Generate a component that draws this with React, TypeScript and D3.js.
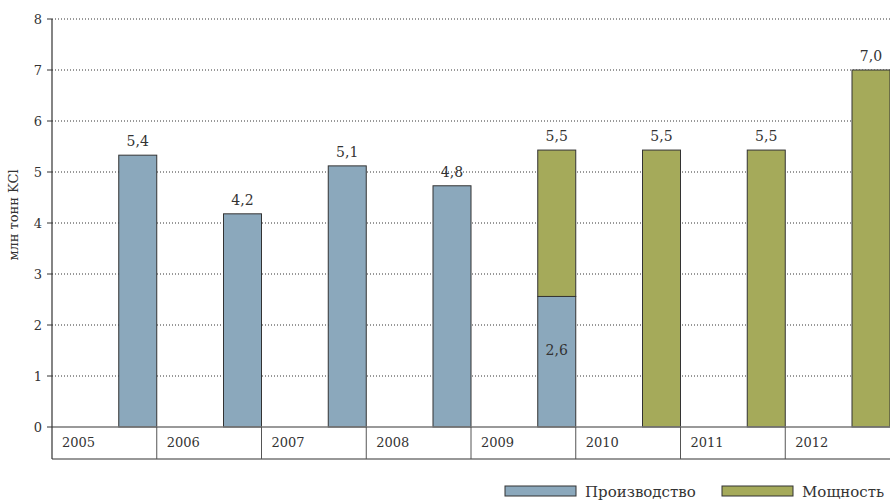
import React from "react";
import * as d3 from "d3";

const years = ["2005", "2006", "2007", "2008", "2009", "2010", "2011", "2012"];
const production = [5.33, 4.18, 5.12, 4.73, 2.56, 0, 0, 0];
const capacity = [0, 0, 0, 0, 2.87, 5.43, 5.43, 7.0];
const topLabels = ["5,4", "4,2", "5,1", "4,8", "5,5", "5,5", "5,5", "7,0"];
const innerLabel = { year: "2009", text: "2,6", at: 1.5 };
const yTicks = [0, 1, 2, 3, 4, 5, 6, 7, 8];
const seriesNames = ["Производство", "Мощность"];
const colors = ["#8BA8BC", "#A5AA5A"];

const W = 890, H = 501;
const left = 52, right = 890, top = 19, bottom = 427, rowBottom = 459;
const font = "DejaVu Serif, Liberation Serif, serif";

export default function App() {
  const x = d3.scaleBand().domain(years).range([left, right]).padding(0);
  const y = d3.scaleLinear().domain([0, 8]).range([bottom, top]);
  const barW = 38;
  const stack = d3.stack<any>().keys(["p", "c"])(
    years.map((yr, i) => ({ yr, p: production[i], c: capacity[i] }))
  );
  return (
    <svg width={W} height={H} style={{ position: "absolute", left: 0, top: 0, background: "#fff", fontFamily: font }}>
      {yTicks.filter(t => t > 0).map(t => (
        <line key={t} x1={left} x2={right} y1={y(t)} y2={y(t)} stroke="#333" strokeWidth={1} strokeDasharray="1,2" />
      ))}
      {yTicks.map(t => (
        <g key={t}>
          <line x1={left - 5} x2={left} y1={y(t)} y2={y(t)} stroke="#333" />
          <text x={left - 10} y={y(t)} dy="0.35em" textAnchor="end" fontSize={13} fill="#333">{t}</text>
        </g>
      ))}
      {stack.map((s, si) => (
        <g key={si}>
          {s.map((d, i) => d[1] - d[0] > 0 ? (
            <rect key={i} x={(x(years[i]) as number) + x.bandwidth() - barW} y={y(d[1])}
              width={barW} height={y(d[0]) - y(d[1])} fill={colors[si]} stroke="#333" strokeWidth={1} />
          ) : null)}
        </g>
      ))}
      {years.map((yr, i) => (
        <text key={yr} x={(x(yr) as number) + x.bandwidth() - barW / 2} y={y(production[i] + capacity[i]) - 9}
          textAnchor="middle" fontSize={14} fill="#333">{topLabels[i]}</text>
      ))}
      <text x={(x(innerLabel.year) as number) + x.bandwidth() - barW / 2} y={y(innerLabel.at)} dy="0.35em"
        textAnchor="middle" fontSize={14} fill="#333">{innerLabel.text}</text>
      <line x1={left} x2={right} y1={bottom} y2={bottom} stroke="#777" strokeWidth={1.5} />
      <line x1={left} x2={left} y1={top} y2={rowBottom} stroke="#333" strokeWidth={1.2} />
      <line x1={left} x2={right} y1={rowBottom} y2={rowBottom} stroke="#333" strokeWidth={1.2} />
      {years.slice(1).map(yr => (
        <line key={yr} x1={x(yr) as number} x2={x(yr) as number} y1={bottom} y2={rowBottom} stroke="#555" strokeWidth={1} />
      ))}
      {years.map(yr => (
        <text key={yr} x={(x(yr) as number) + 10} y={447} fontSize={13} fill="#333">{yr}</text>
      ))}
      <text transform={`translate(18,215) rotate(-90)`} textAnchor="middle"
        fontSize={13} fill="#333">млн тонн KCl</text>
      {seriesNames.map((n, i) => {
        const lx = i === 0 ? 505 : 722;
        return (
          <g key={n}>
            <rect x={lx} y={486} width={71} height={10} fill={colors[i]} stroke="#333" strokeWidth={1} />
            <text x={lx + 80} y={497} fontSize={15} fill="#333">{n}</text>
          </g>
        );
      })}
    </svg>
  );
}
